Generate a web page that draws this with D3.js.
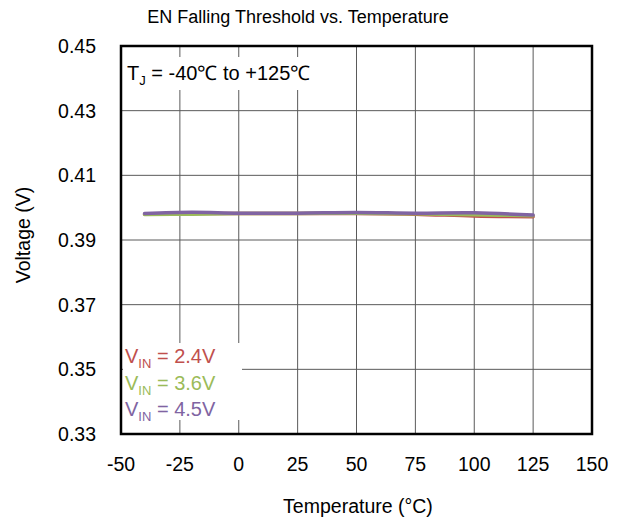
<!DOCTYPE html>
<html>
<head>
<meta charset="utf-8">
<script src="https://cdn.jsdelivr.net/npm/d3@7"></script>
<style>
  body { margin: 0; background: #fff; }
  text { font-family: "Liberation Sans", Arial, sans-serif; fill: #000; }
</style>
</head>
<body>
<script>
var width = 620,
    height = 525;

// temperatures (°C)
var temps = [-40, -20, 0, 25, 50, 75, 100, 125];
// EN falling threshold (V) per supply voltage
var vin24 = [0.3980, 0.3982, 0.3982, 0.3982, 0.3982, 0.3980, 0.3974, 0.3972];
var vin36 = [0.3979, 0.3980, 0.3982, 0.3982, 0.3983, 0.3981, 0.3978, 0.3975];
var vin45 = [0.3982, 0.3986, 0.3983, 0.3983, 0.3985, 0.3983, 0.3984, 0.3977];

var seriesNames = ["2.4V", "3.6V", "4.5V"];
var seriesColors = ["#C0504D", "#9BBB59", "#8064A2"];
var seriesValues = [vin24, vin36, vin45];

var xTicks = [-50, -25, 0, 25, 50, 75, 100, 125, 150];
var yTicks = [0.33, 0.35, 0.37, 0.39, 0.41, 0.43, 0.45];

var plotL = 121, plotR = 592, plotT = 46, plotB = 434;

var svg = d3.select("body")
            .append("svg")
            .attr("width", width)
            .attr("height", height);

var x = d3.scaleLinear().domain([-50, 150]).range([plotL, plotR]),
    y = d3.scaleLinear().domain([0.33, 0.45]).range([plotB, plotT]);

// grid
svg.append("g")
   .selectAll("line")
   .data(xTicks.slice(1, -1))
   .enter()
   .append("line")
   .attr("x1", function(d) { return x(d); })
   .attr("x2", function(d) { return x(d); })
   .attr("y1", plotT)
   .attr("y2", plotB)
   .attr("stroke", "#5a5a5a")
   .attr("stroke-width", 1);

svg.append("g")
   .selectAll("line")
   .data(yTicks.slice(1, -1))
   .enter()
   .append("line")
   .attr("x1", plotL)
   .attr("x2", plotR)
   .attr("y1", function(d) { return y(d); })
   .attr("y2", function(d) { return y(d); })
   .attr("stroke", "#5a5a5a")
   .attr("stroke-width", 1);

// tick labels
svg.append("g")
   .selectAll("text")
   .data(xTicks)
   .enter()
   .append("text")
   .attr("x", function(d) { return x(d); })
   .attr("y", 471)
   .attr("text-anchor", "middle")
   .style("font-size", "19.5px")
   .text(function(d) { return d; });

svg.append("g")
   .selectAll("text")
   .data(yTicks)
   .enter()
   .append("text")
   .attr("x", 96)
   .attr("y", function(d) { return y(d) + 7; })
   .attr("text-anchor", "end")
   .style("font-size", "19.5px")
   .text(function(d) { return d.toFixed(2); });

// series
var line = d3.line()
             .curve(d3.curveCatmullRom)
             .x(function(d, i) { return x(temps[i]); })
             .y(function(d) { return y(d); });

seriesValues.forEach(function(vals, i) {
  svg.append("path")
     .attr("d", line(vals))
     .attr("fill", "none")
     .attr("stroke", seriesColors[i])
     .attr("stroke-width", 3.5)
     .attr("stroke-linecap", "round");
});

// condition label
svg.append("rect")
   .attr("x", plotL + 2).attr("y", 57)
   .attr("width", 208).attr("height", 33)
   .attr("fill", "#fff");

var tj = svg.append("text")
            .attr("x", 127)
            .attr("y", 80)
            .style("font-size", "20px");
tj.append("tspan").text("T");
tj.append("tspan").attr("dy", 5).style("font-size", "13px").text("J");
tj.append("tspan").attr("dy", -5).text(" = -40\u2103 to +125\u2103");

// legend
svg.append("rect")
   .attr("x", plotL + 2).attr("y", 343)
   .attr("width", 119).attr("height", 77)
   .attr("fill", "#fff");

seriesNames.forEach(function(name, i) {
  var t = svg.append("text")
             .attr("x", 125)
             .attr("y", 363 + i * 26.5)
             .style("font-size", "20px")
             .style("fill", seriesColors[i]);
  t.append("tspan").style("fill", seriesColors[i]).text("V");
  t.append("tspan").attr("dy", 5).style("font-size", "13px").style("fill", seriesColors[i]).text("IN");
  t.append("tspan").attr("dy", -5).style("fill", seriesColors[i]).text(" = " + name);
});

// plot border
svg.append("rect")
   .attr("x", plotL).attr("y", plotT)
   .attr("width", plotR - plotL).attr("height", plotB - plotT)
   .attr("fill", "none")
   .attr("stroke", "#000")
   .attr("stroke-width", 2.5);

// titles
svg.append("text")
   .attr("x", 298).attr("y", 23)
   .attr("text-anchor", "middle")
   .style("font-size", "18px")
   .text("EN Falling Threshold vs. Temperature");

svg.append("text")
   .attr("x", 358).attr("y", 513)
   .attr("text-anchor", "middle")
   .style("font-size", "19.5px")
   .text("Temperature (\u00B0C)");

svg.append("text")
   .attr("transform", "translate(30,235) rotate(-90)")
   .attr("text-anchor", "middle")
   .style("font-size", "19.5px")
   .text("Voltage (V)");
</script>
</body>
</html>
